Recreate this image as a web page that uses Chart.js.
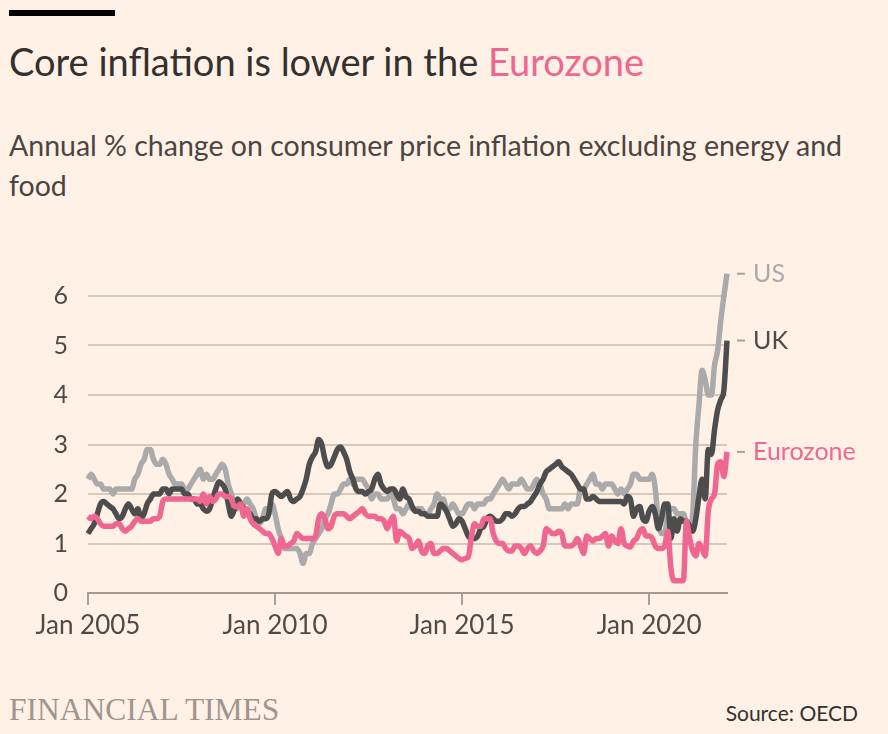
<!DOCTYPE html>
<html>
<head>
<meta charset="utf-8">
<script src="https://cdn.jsdelivr.net/npm/chart.js@4.4.0/dist/chart.umd.min.js"></script>
<style>
  html, body { margin: 0; padding: 0; background: #fff1e5; }
  body { width: 888px; height: 734px; position: relative; overflow: hidden; font-family: Lato, "Noto Sans", sans-serif; color: #33302e; }
  #bar { position: absolute; left: 9px; top: 10px; width: 106px; height: 6px; background: #000; }
  #title { position: absolute; left: 9px; top: 40px; font-size: 38px; line-height: 42px; white-space: nowrap; }
  #title span { color: #ef6791; }
  #subtitle { position: absolute; left: 9px; top: 125px; width: 860px; font-size: 28.5px; line-height: 40px; color: #4a4542; }
  #wrap { position: absolute; left: 0; top: 240px; width: 888px; height: 400px; }
  #ft { position: absolute; left: 9px; top: 692px; font-family: "Liberation Serif", "DejaVu Serif", serif; font-size: 31.5px; color: #9e958e; letter-spacing: 0; }
  #source { position: absolute; right: 30px; top: 700px; font-size: 21px; color: #33302e; }
</style>
</head>
<body>
<div id="bar"></div>
<div id="title">Core inflation is lower in the <span>Eurozone</span></div>
<div id="subtitle">Annual % change on consumer price inflation excluding energy and food</div>
<div id="wrap"><canvas id="grafico"></canvas></div>
<div id="ft">FINANCIAL TIMES</div>
<div id="source">Source: OECD</div>
<script>
// meses de Jan 2005 a Fev 2022
const anoInicio = 2005;
const nomesMes = ['Jan','Feb','Mar','Apr','May','Jun','Jul','Aug','Sep','Oct','Nov','Dec'];
const meses = [];
for (let i = 0; i < 206; i++) {
  meses.push(nomesMes[i % 12] + ' ' + (anoInicio + Math.floor(i / 12)));
}

const rotulosX = ['Jan 2005', 'Jan 2010', 'Jan 2015', 'Jan 2020'];
const valoresY = [0, 1, 2, 3, 4, 5, 6];

const usCore = [
  2.3, 2.4, 2.3, 2.2, 2.2, 2.1, 2.1, 2.1, 2.0, 2.1, 2.1, 2.1,
  2.1, 2.1, 2.1, 2.3, 2.4, 2.6, 2.7, 2.9, 2.9, 2.7, 2.6, 2.6,
  2.7, 2.6, 2.4, 2.3, 2.2, 2.2, 2.2, 2.1, 2.1, 2.2, 2.3, 2.4,
  2.5, 2.3, 2.4, 2.3, 2.3, 2.4, 2.5, 2.6, 2.5, 2.2, 2.0, 1.8,
  1.7, 1.8, 1.8, 1.9, 1.8, 1.7, 1.5, 1.4, 1.5, 1.7, 1.7, 1.8,
  1.6, 1.3, 1.1, 0.9, 0.9, 0.9, 0.9, 0.9, 0.8, 0.6, 0.8, 0.8,
  1.0, 1.1, 1.2, 1.3, 1.5, 1.6, 1.8, 2.0, 2.0, 2.1, 2.2, 2.2,
  2.3, 2.2, 2.3, 2.3, 2.3, 2.2, 2.1, 1.9, 2.0, 2.0, 1.9, 1.9,
  1.9, 2.0, 1.9, 1.7, 1.7, 1.6, 1.7, 1.8, 1.7, 1.7, 1.7, 1.7,
  1.6, 1.6, 1.7, 1.8, 2.0, 1.9, 1.9, 1.7, 1.7, 1.8, 1.7, 1.6,
  1.6, 1.7, 1.8, 1.8, 1.7, 1.8, 1.8, 1.8, 1.9, 1.9, 2.0, 2.1,
  2.2, 2.3, 2.2, 2.1, 2.2, 2.2, 2.2, 2.3, 2.2, 2.1, 2.1, 2.2,
  2.3, 2.2, 2.0, 1.9, 1.7, 1.7, 1.7, 1.7, 1.7, 1.8, 1.7, 1.8,
  1.8, 1.8, 2.1, 2.1, 2.2, 2.3, 2.4, 2.2, 2.2, 2.1, 2.2, 2.2,
  2.2, 2.1, 2.0, 2.1, 2.0, 2.1, 2.2, 2.4, 2.4, 2.3, 2.3, 2.3,
  2.3, 2.4, 2.1, 1.4, 1.2, 1.2, 1.6, 1.7, 1.7, 1.6, 1.6, 1.6,
  1.4, 1.3, 1.6, 3.0, 3.8, 4.5, 4.3, 4.0, 4.0, 4.6, 4.9, 5.5,
  6.0, 6.45
];

const ukCore = [
  1.2, 1.3, 1.4, 1.6, 1.8, 1.85, 1.8, 1.75, 1.7, 1.6, 1.5, 1.55,
  1.7, 1.8, 1.7, 1.6, 1.7, 1.5, 1.6, 1.8, 1.9, 2.0, 2.0, 2.0,
  2.1, 2.1, 2.0, 2.1, 2.1, 2.1, 2.1, 2.0, 2.0, 1.9, 1.9, 1.8,
  1.8, 1.7, 1.65, 1.7, 1.9, 2.1, 2.25, 2.2, 2.1, 1.8, 1.55, 1.7,
  1.9, 1.8, 1.7, 1.65, 1.6, 1.5, 1.5, 1.45, 1.5, 1.5, 1.6, 2.0,
  2.05, 2.0, 1.95, 2.0, 2.05, 1.9, 1.85, 1.9, 1.95, 2.1, 2.3, 2.6,
  2.75, 2.85, 3.1, 3.0, 2.7, 2.55, 2.6, 2.75, 2.9, 2.95, 2.85, 2.7,
  2.45, 2.3, 2.1, 2.05, 2.05, 2.0, 2.05, 2.1, 2.3, 2.4, 2.2, 2.1,
  2.05, 2.1, 2.1, 2.0, 1.9, 2.1, 1.95, 1.9, 1.75, 1.65, 1.65, 1.6,
  1.6, 1.55, 1.55, 1.55, 1.55, 1.8, 1.75, 1.65, 1.5, 1.35, 1.4, 1.5,
  1.45, 1.3, 1.15, 1.1, 1.1, 1.15, 1.3, 1.35, 1.5, 1.55, 1.5, 1.45,
  1.45, 1.5, 1.6, 1.6, 1.55, 1.6, 1.7, 1.75, 1.75, 1.8, 1.85, 1.95,
  2.05, 2.2, 2.3, 2.45, 2.5, 2.55, 2.6, 2.65, 2.55, 2.5, 2.45, 2.4,
  2.3, 2.2, 2.1, 2.1, 1.9, 1.9, 1.95, 1.9, 1.85, 1.85, 1.85, 1.85,
  1.85, 1.85, 1.85, 1.85, 1.8, 1.95, 1.9, 1.55, 1.7, 1.75, 1.5, 1.45,
  1.65, 1.75, 1.6, 1.3, 1.5, 1.8, 1.8, 1.1, 1.5, 1.25, 1.5, 1.45,
  1.45, 1.35, 1.25, 1.5, 1.95, 2.3, 1.9, 2.9, 2.8, 3.3, 3.7, 3.9,
  4.1, 5.1
];

const ezCore = [
  1.55, 1.5, 1.55, 1.5, 1.4, 1.35, 1.35, 1.35, 1.35, 1.4, 1.4, 1.3,
  1.25, 1.3, 1.35, 1.45, 1.5, 1.45, 1.45, 1.45, 1.45, 1.5, 1.5, 1.55,
  1.85, 1.9, 1.9, 1.9, 1.9, 1.9, 1.9, 1.9, 1.9, 1.9, 1.9, 1.9,
  1.85, 2.0, 1.8, 1.95, 1.85, 1.9, 2.0, 2.0, 1.95, 1.95, 1.9, 1.75,
  1.75, 1.8, 1.55, 1.7, 1.5, 1.4, 1.35, 1.3, 1.25, 1.2, 1.2, 1.1,
  0.95, 0.8, 1.1, 0.95, 0.95, 1.0, 1.05, 1.2, 1.15, 1.1, 1.1, 1.1,
  1.1, 1.15, 1.5, 1.6, 1.5, 1.3, 1.35, 1.55, 1.6, 1.6, 1.6, 1.55,
  1.5, 1.55, 1.6, 1.65, 1.7, 1.6, 1.55, 1.55, 1.55, 1.5, 1.5, 1.45,
  1.3, 1.45, 1.55, 1.05, 1.25, 1.2, 1.15, 1.1, 0.9, 0.95, 1.05, 0.85,
  0.8, 0.95, 1.0, 0.8, 0.8, 0.85, 0.9, 0.9, 0.85, 0.8, 0.75, 0.7,
  0.67, 0.7, 0.73, 1.13, 1.4, 1.35, 1.35, 1.5, 1.5, 1.5, 1.2, 1.05,
  1.0, 1.0, 0.9, 0.85, 0.85, 0.95, 0.95, 0.9, 0.8, 0.9, 0.95, 0.85,
  0.8, 0.85, 0.95, 1.3, 1.25, 1.2, 1.2, 1.25, 1.2, 0.95, 0.95, 0.95,
  1.0, 1.1, 0.95, 0.8, 1.15, 1.1, 1.05, 1.1, 1.1, 1.15, 1.2, 0.95,
  1.15, 1.05, 1.0, 1.3, 1.0, 0.95, 0.93, 1.05, 1.1, 1.25, 1.3, 1.15,
  1.15, 1.1, 0.95, 0.9, 0.9, 0.95, 1.25, 0.5, 0.25, 0.25, 0.25, 0.25,
  1.45, 1.1, 0.85, 0.75, 1.0, 0.9, 0.75, 1.65, 1.9, 2.0, 2.6, 2.65,
  2.35, 2.85
];

const series = [
  { nome: 'Eurozone', dados: ezCore, cor: '#ef6791' },
  { nome: 'UK', dados: ukCore, cor: '#4d4d4d' },
  { nome: 'US', dados: usCore, cor: '#aaaaaa' }
];

// rótulos no fim de cada linha
const rotulosFinais = {
  id: 'rotulosFinais',
  afterDatasetsDraw(chart) {
    const ctx = chart.ctx;
    const y = chart.scales.y;
    ctx.save();
    ctx.font = '25px Lato, sans-serif';
    ctx.textBaseline = 'middle';
    series.forEach(s => {
      const py = y.getPixelForValue(s.dados[s.dados.length - 1]);
      ctx.strokeStyle = '#a7a29d';
      ctx.lineWidth = 2;
      ctx.beginPath();
      ctx.moveTo(737, py);
      ctx.lineTo(745, py);
      ctx.stroke();
      ctx.fillStyle = s.cor;
      ctx.fillText(s.nome, 753, py);
    });
    ctx.restore();
  }
};

new Chart(document.getElementById('grafico'), {
  type: 'line',
  data: {
    labels: meses,
    datasets: series.map(s => ({
      label: s.nome,
      data: s.dados,
      borderColor: s.cor,
      borderWidth: 5.5,
      pointRadius: 0,
      tension: 0.3,
      cubicInterpolationMode: 'monotone',
      clip: false
    }))
  },
  options: {
    responsive: true,
    maintainAspectRatio: false,
    animation: false,
    layout: { padding: { top: 56, right: 161, left: 0, bottom: 0 } },
    plugins: { legend: { display: false }, tooltip: { enabled: false } },
    scales: {
      x: {
        type: 'category',
        offset: false,
        afterBuildTicks: scale => {
          scale.ticks = scale.ticks.filter(t => rotulosX.includes(meses[t.value]));
        },
        afterFit: scale => { scale.height = 47; },
        ticks: {
          autoSkip: false,
          maxRotation: 0,
          color: '#4f4a46',
          font: { family: 'Lato', size: 26 },
          padding: 5,
          callback: function(v) { return meses[v]; }
        },
        grid: { drawOnChartArea: false, drawTicks: true, tickLength: 12, color: '#a7a09a', lineWidth: 2 },
        border: { display: true, color: '#a39a92', width: 2 }
      },
      y: {
        min: 0,
        max: 6,
        afterBuildTicks: scale => {
          scale.ticks = valoresY.map(v => ({ value: v }));
        },
        afterFit: scale => { scale.width = 88; },
        ticks: {
          color: '#4f4a46',
          font: { family: 'Lato', size: 25 },
          padding: 20
        },
        grid: { color: '#d6c8bb', lineWidth: 2, drawTicks: false },
        border: { display: false }
      }
    }
  },
  plugins: [rotulosFinais]
});
</script>
</body>
</html>
